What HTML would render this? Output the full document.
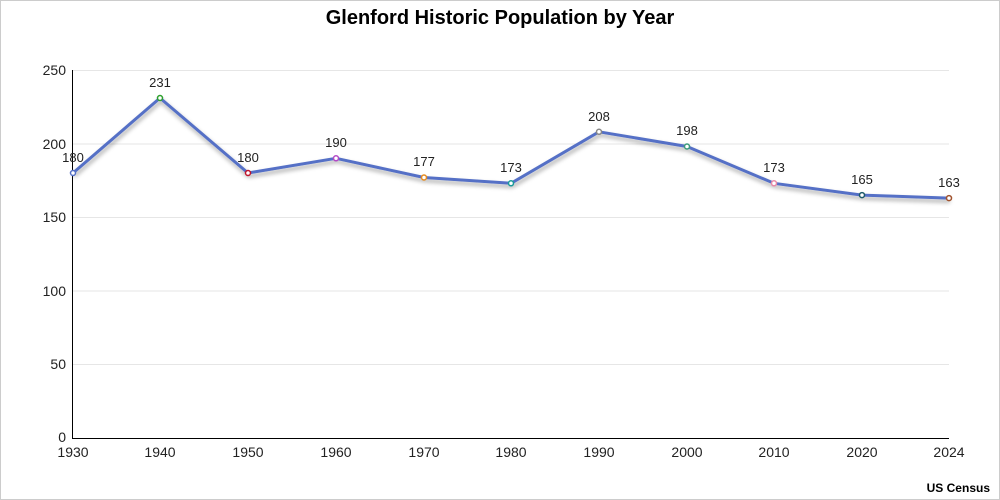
<!DOCTYPE html><html><head><style>body{margin:0}svg{display:block}text{font-family:"Liberation Sans",sans-serif}</style></head><body>
<svg width="1000" height="500" xmlns="http://www.w3.org/2000/svg">
<rect x="0.5" y="0.5" width="999" height="499" fill="#fff" stroke="#ccc"/>
<text x="500" y="24" text-anchor="middle" font-size="20" font-weight="bold">Glenford Historic Population by Year</text>
<g stroke="#e6e6e6" stroke-width="1">
<line x1="73" x2="949" y1="70.5" y2="70.5"/><line x1="73" x2="949" y1="144" y2="144"/><line x1="73" x2="949" y1="217.5" y2="217.5"/><line x1="73" x2="949" y1="291" y2="291"/><line x1="73" x2="949" y1="364.5" y2="364.5"/>
</g>
<line x1="72.5" x2="72.5" y1="70" y2="438" stroke="#000"/>
<line x1="72" x2="949" y1="438.5" y2="438.5" stroke="#000"/>
<g font-size="14" text-anchor="end" fill="#222">
<text x="66" y="75">250</text><text x="66" y="149">200</text><text x="66" y="222">150</text><text x="66" y="296">100</text><text x="66" y="369">50</text><text x="66" y="442">0</text>
</g>
<g font-size="14" text-anchor="middle" fill="#222">
<text x="73" y="457">1930</text><text x="160" y="457">1940</text><text x="248" y="457">1950</text><text x="336" y="457">1960</text><text x="424" y="457">1970</text><text x="511" y="457">1980</text><text x="599" y="457">1990</text><text x="687" y="457">2000</text><text x="774" y="457">2010</text><text x="862" y="457">2020</text><text x="949" y="457">2024</text>
</g>
<defs><filter id="sh" x="-10%" y="-10%" width="120%" height="130%"><feDropShadow dx="1" dy="3" stdDeviation="2" flood-color="#000" flood-opacity="0.35"/></filter></defs>
<polyline filter="url(#sh)" fill="none" stroke="#5470c6" stroke-width="3" stroke-linejoin="round" points="73,173 160,98 248,173 336,158.3 424,177.5 511,183.3 599,131.8 687,146.5 774,183.3 862,195.1 949,198.1"/>
<g fill="#fff" stroke-width="1.5">
<circle cx="73" cy="173" r="2.5" stroke="#5470c6"/><circle cx="160" cy="98" r="2.5" stroke="#2ca02c"/><circle cx="248" cy="173" r="2.5" stroke="#c0142b"/><circle cx="336" cy="158.3" r="2.5" stroke="#b44ac6"/><circle cx="424" cy="177.5" r="2.5" stroke="#e58a1f"/><circle cx="511" cy="183.3" r="2.5" stroke="#1a9a9a"/><circle cx="599" cy="131.8" r="2.5" stroke="#888"/><circle cx="687" cy="146.5" r="2.5" stroke="#3a9a7a"/><circle cx="774" cy="183.3" r="2.5" stroke="#e88aa8"/><circle cx="862" cy="195.1" r="2.5" stroke="#1e5a6a"/><circle cx="949" cy="198.1" r="2.5" stroke="#a0522d"/>
</g>
<g font-size="13" text-anchor="middle" fill="#222">
<text x="73" y="162">180</text><text x="160" y="87">231</text><text x="248" y="162">180</text><text x="336" y="147">190</text><text x="424" y="166">177</text><text x="511" y="172">173</text><text x="599" y="121">208</text><text x="687" y="135">198</text><text x="774" y="172">173</text><text x="862" y="184">165</text><text x="949" y="187">163</text>
</g>
<text x="990" y="492" text-anchor="end" font-size="12" font-weight="bold">US Census</text>
</svg></body></html>
